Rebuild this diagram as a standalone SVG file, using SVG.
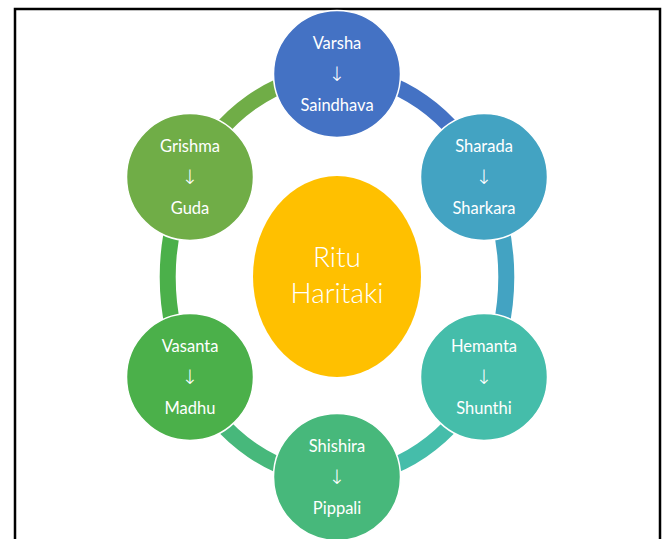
<svg xmlns="http://www.w3.org/2000/svg" width="663" height="539" viewBox="0 0 663 539">
<style>
.seg{fill:none;stroke-width:16}
.node{stroke:#fff;stroke-width:1.5}
.t{font-family:Lato,"Open Sans","DejaVu Sans",sans-serif;font-size:16.5px;fill:#fff;text-anchor:middle}
.a{font-family:"DejaVu Sans",sans-serif;font-size:20px;font-weight:300;fill:#fff;text-anchor:middle}
.c{font-family:Lato,"Open Sans",sans-serif;font-weight:300;font-size:28px;fill:#fff;text-anchor:middle}
</style>
<rect width="663" height="539" fill="#fff"/>
<path d="M15,539 V9 H660 V539" fill="none" stroke="#000" stroke-width="2.5"/>
<g id="connectors">
<path class="seg" stroke="#4472C4" d="M337,74 A170 202 0 0 1 484,177"/>
<path class="seg" stroke="#43A3C2" d="M484,177 A170 202 0 0 1 484,377"/>
<path class="seg" stroke="#45BDAA" d="M484,377 A170 202 0 0 1 337,477"/>
<path class="seg" stroke="#47B87B" d="M337,477 A170 202 0 0 1 190,377"/>
<path class="seg" stroke="#4BB04A" d="M190,377 A170 202 0 0 1 190,177"/>
<path class="seg" stroke="#70AD47" d="M190,177 A170 202 0 0 1 337,74"/>
</g>
<g id="center">
<ellipse cx="337" cy="276.5" rx="84" ry="100.5" fill="#FFC000"/>
<text class="c" x="337" y="267">Ritu</text>
<text class="c" x="337" y="303">Haritaki</text>
</g>
<g id="varsha">
<circle class="node" cx="337" cy="74" r="63.5" fill="#4472C4"/>
<text class="t" x="337" y="49">Varsha</text>
<text class="a" x="337" y="81">↓</text>
<text class="t" x="337" y="111">Saindhava</text>
</g>
<g id="sharada">
<circle class="node" cx="484" cy="177" r="63.5" fill="#43A3C2"/>
<text class="t" x="484" y="152">Sharada</text>
<text class="a" x="484" y="184">↓</text>
<text class="t" x="484" y="214">Sharkara</text>
</g>
<g id="hemanta">
<circle class="node" cx="484" cy="377" r="63.5" fill="#45BDAA"/>
<text class="t" x="484" y="352">Hemanta</text>
<text class="a" x="484" y="384">↓</text>
<text class="t" x="484" y="414">Shunthi</text>
</g>
<g id="shishira">
<circle class="node" cx="337" cy="477" r="63.5" fill="#47B87B"/>
<text class="t" x="337" y="452">Shishira</text>
<text class="a" x="337" y="484">↓</text>
<text class="t" x="337" y="514">Pippali</text>
</g>
<g id="vasanta">
<circle class="node" cx="190" cy="377" r="63.5" fill="#4BB04A"/>
<text class="t" x="190" y="352">Vasanta</text>
<text class="a" x="190" y="384">↓</text>
<text class="t" x="190" y="414">Madhu</text>
</g>
<g id="grishma">
<circle class="node" cx="190" cy="177" r="63.5" fill="#70AD47"/>
<text class="t" x="190" y="152">Grishma</text>
<text class="a" x="190" y="184">↓</text>
<text class="t" x="190" y="214">Guda</text>
</g>
</svg>
